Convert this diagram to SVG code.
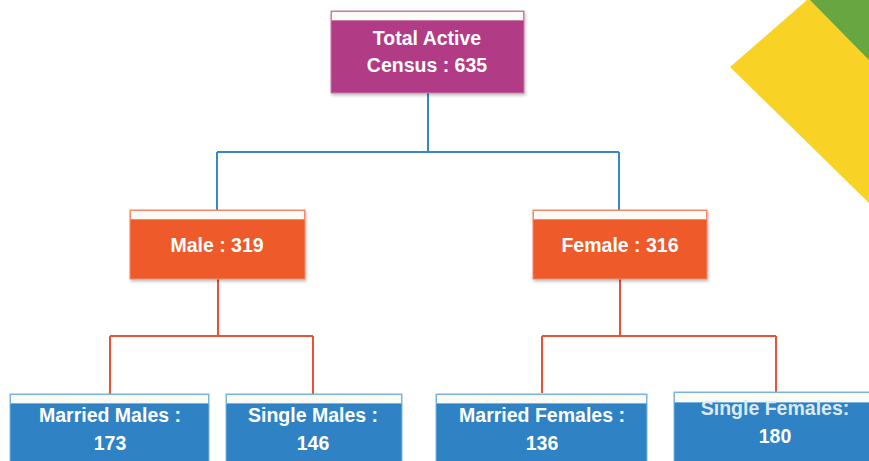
<svg xmlns="http://www.w3.org/2000/svg" width="869" height="461" viewBox="0 0 869 461">
<defs>
<style>
.t{font-family:"Liberation Sans",Arial,sans-serif;font-weight:bold;font-size:19.5px;fill:#ffffff;text-anchor:middle}
.strip{fill:#fbfbf6}
.cb{fill:none;stroke:#3a86c4;stroke-width:2}
.co{fill:none;stroke:#e8523a;stroke-width:2}
.mag{fill:#b23a86;stroke:#c97aa8;stroke-width:1}
.org{fill:#ee5a2a;stroke:#f08a6a;stroke-width:1}
.blu{fill:#2f83c4;stroke:#7ab4de;stroke-width:1}
</style>
<filter id="sh" x="-5%" y="-5%" width="115%" height="125%">
<feDropShadow dx="1" dy="2" stdDeviation="1.5" flood-color="#000" flood-opacity="0.25"/>
</filter>
</defs>
<rect width="869" height="461" fill="#ffffff"/>
<g id="decor">
<polygon points="730,67 807,0 869,0 869,203" fill="#f8d325"/>
<polygon points="810,0 869,0 869,60" fill="#68a641"/>
</g>
<g id="connectors">
<path class="cb" d="M428,93 V152 M217,152 H619 M217,152 V210 M619,152 V210"/>
<path class="co" d="M218,279 V336 M110,336 H313 M110,336 V394 M313,336 V394"/>
<path class="co" d="M620,279 V336 M542,336 H776 M542,336 V393 M776,336 V393"/>
</g>
<g id="total">
<rect class="mag" x="331" y="11" width="193" height="82" filter="url(#sh)"/>
<rect class="strip" x="331.5" y="11.5" width="192" height="9" stroke="#c97aa8" stroke-width="1"/>
<text class="t" x="427" y="45">Total Active</text>
<text class="t" x="427" y="72">Census : 635</text>
</g>
<g id="male">
<rect class="org" x="130" y="210" width="175" height="69" filter="url(#sh)"/>
<rect class="strip" x="130.5" y="210.5" width="174" height="9" stroke="#f08a6a" stroke-width="1"/>
<text class="t" x="217" y="252">Male : 319</text>
</g>
<g id="female">
<rect class="org" x="533" y="210" width="174" height="69" filter="url(#sh)"/>
<rect class="strip" x="533.5" y="210.5" width="173" height="9" stroke="#f08a6a" stroke-width="1"/>
<text class="t" x="620" y="252">Female : 316</text>
</g>
<g id="married-males">
<rect class="blu" x="10" y="394" width="199" height="80"/>
<rect class="strip" x="10.5" y="394.5" width="198" height="9" stroke="#7ab4de" stroke-width="1"/>
<text class="t" x="110" y="422">Married Males :</text>
<text class="t" x="110" y="450">173</text>
</g>
<g id="single-males">
<rect class="blu" x="226" y="394" width="176" height="80"/>
<rect class="strip" x="226.5" y="394.5" width="175" height="9" stroke="#7ab4de" stroke-width="1"/>
<text class="t" x="313" y="422">Single Males :</text>
<text class="t" x="313" y="450">146</text>
</g>
<g id="married-females">
<rect class="blu" x="436" y="394" width="211" height="80"/>
<rect class="strip" x="436.5" y="394.5" width="210" height="9" stroke="#7ab4de" stroke-width="1"/>
<text class="t" x="542" y="422">Married Females :</text>
<text class="t" x="542" y="450">136</text>
</g>
<g id="single-females">
<rect class="blu" x="674" y="392" width="210" height="80"/>
<rect class="strip" x="674.5" y="392.5" width="209" height="10" stroke="#7ab4de" stroke-width="1"/>
<text class="t" x="775" y="415" fill="#d8e6f2" style="fill:#dde9f3">Single Females:</text>
<text class="t" x="775" y="443">180</text>
</g>
</svg>
